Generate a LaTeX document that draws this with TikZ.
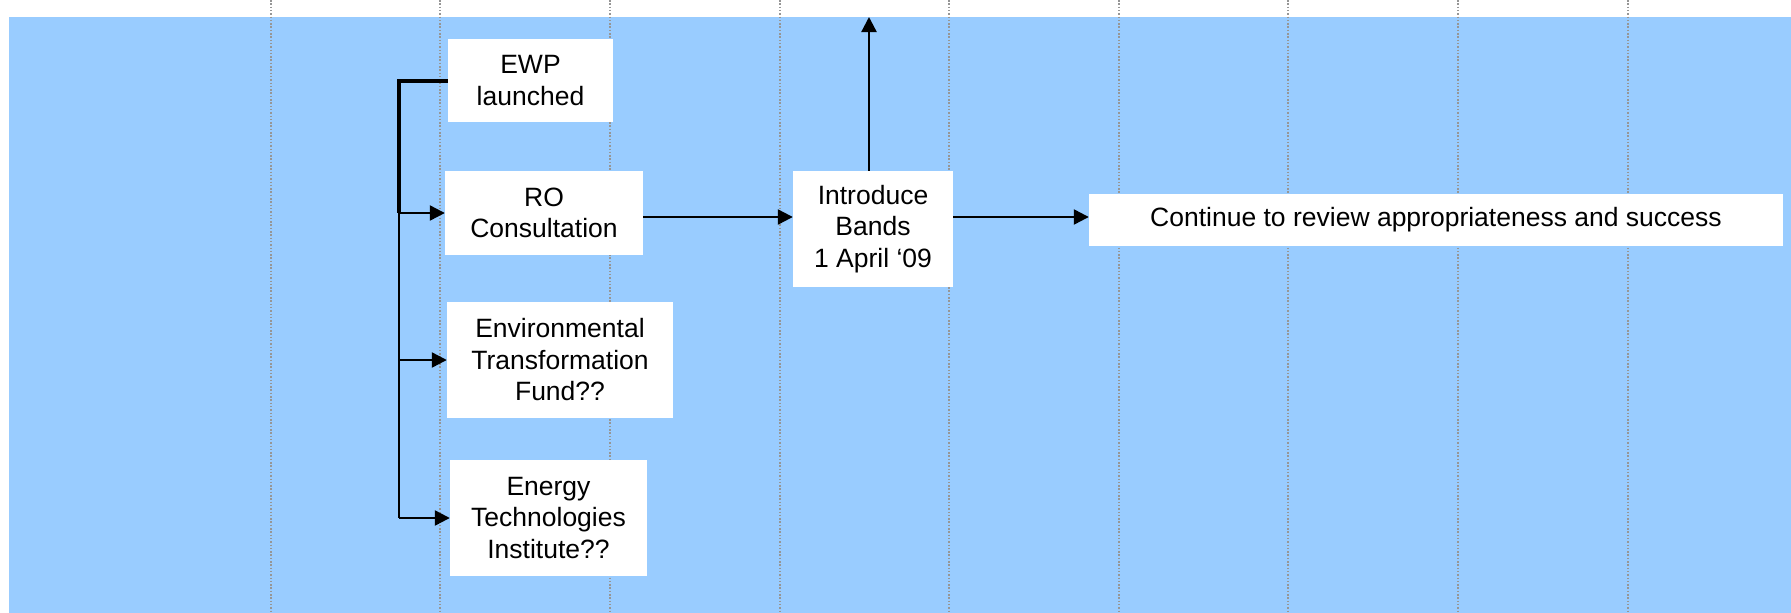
\documentclass[tikz,border=0pt]{standalone}
\usepackage{fontspec}
\setmainfont{Liberation Sans}
\usetikzlibrary{arrows.meta}
\definecolor{bgblue}{RGB}{153,204,255}
\definecolor{gridgray}{RGB}{150,150,150}
\tikzset{
  box/.style={fill=white, draw=none, align=center, inner sep=0pt,
    font=\fontsize{26.5pt}{31.5pt}\selectfont},
  arr/.style={line width=2.3pt, -{Triangle[length=15pt,width=15pt]}},
  plain/.style={line width=2.3pt},
  thickline/.style={line width=4pt},
  grid/.style={gridgray, line width=1.2pt, dash pattern=on 1.5pt off 1.8pt}
}
\begin{document}
\begin{tikzpicture}[x=1pt,y=-1pt]
\useasboundingbox (0,0) rectangle (1791,613);
\fill[bgblue] (9,17) rectangle (1791,613);
\foreach \gx in {271,440,610,780,949,1119,1288,1458,1628}
  \draw[grid] (\gx,0) -- (\gx,613);

\node[box, minimum width=165pt, minimum height=83pt] (ewp) at (530.5,80.5) {EWP\\launched};
\node[box, minimum width=198pt, minimum height=84pt] (ro) at (544,213) {RO\\Consultation};
\node[box, minimum width=226pt, minimum height=116pt] (etf) at (560,360) {Environmental\\Transformation\\Fund??};
\node[box, minimum width=197pt, minimum height=116pt] (eti) at (548.5,518) {Energy\\Technologies\\Institute??};
\node[box, minimum width=160pt, minimum height=116pt] (intro) at (873,229) {Introduce\\Bands\\1 April ‘09};
\node[box, minimum width=694pt, minimum height=52pt] (cont) at (1436,220) {Continue to review appropriateness and success};

\coordinate (bt) at (399,80.5);
\coordinate (bro) at (399,213);
\coordinate (betf) at (399,360);
\coordinate (beti) at (399,518);
\coordinate (ay) at (0,217);
\coordinate (top) at (0,17);

\draw[thickline] (ewp.west) -- (bt) -- (bro);
\draw[arr] (bro) -- (ro.west);
\draw[plain] (bro) -- (beti);
\draw[arr] (betf) -- (etf.west);
\draw[arr] (beti) -- (eti.west);
\draw[arr] (ro.east |- ay) -- (intro.west |- ay);
\draw[arr] (intro.east |- ay) -- (cont.west |- ay);
\draw[arr] ([xshift=-4pt]intro.north) -- ([xshift=-4pt]intro.north |- top);
\end{tikzpicture}
\end{document}
